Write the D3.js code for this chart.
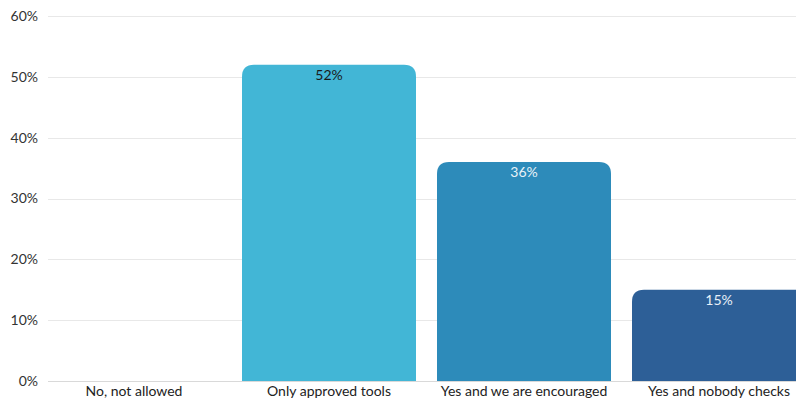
<!DOCTYPE html>
<html>
<head>
<meta charset="utf-8">
<script src="https://cdn.jsdelivr.net/npm/d3@7"></script>
<style>
  html, body { margin: 0; padding: 0; background: #fff; }
  svg { display: block; font-family: "Lato", "Inter", sans-serif; }
</style>
</head>
<body>
<svg id="chart" width="796" height="401"></svg>
<script>
// Survey answers and their shares (percent)
const categories = ["No, not allowed", "Only approved tools", "Yes and we are encouraged", "Yes and nobody checks"];
const values = [0, 52, 36, 15];
const barColors = ["#42b6d6", "#42b6d6", "#2d8bba", "#2d5f97"];
const labelColors = ["#1a1a1a", "#1a1a1a", "#e8f2f8", "#e8f0f8"];
const yTicks = [0, 10, 20, 30, 40, 50, 60];

const svg = d3.select("#chart");
const W = 796;
const gridLeft = 48;
const fontFamily = "Lato, Inter, sans-serif";
const fontSize = 14;

const x = d3.scaleBand()
  .domain(categories)
  .range([36.5, 816.5])
  .paddingInner(0.1077)
  .paddingOuter(0.1077 / 2);

const y = d3.scaleLinear().domain([0, 60]).range([381, 16]);

// Horizontal gridlines
svg.append("g")
  .selectAll("line")
  .data(yTicks)
  .join("line")
  .attr("x1", gridLeft)
  .attr("x2", W)
  .attr("y1", d => Math.round(y(d)) + 0.5)
  .attr("y2", d => Math.round(y(d)) + 0.5)
  .attr("stroke", d => d === 0 ? "#d9d9d9" : "#e8e8e8")
  .attr("stroke-width", 1);

// Y axis tick labels
const yAxis = d3.axisLeft(y).tickValues(yTicks).tickFormat(d => d + "%").tickSize(0).tickPadding(0);
const yg = svg.append("g").attr("transform", "translate(38,0)").call(yAxis);
yg.select(".domain").remove();
yg.selectAll("text")
  .attr("font-size", fontSize)
  .attr("fill", "#333")
  .attr("font-family", fontFamily);

// Bars with rounded top corners
function topRounded(x0, y0, w, h, r) {
  r = Math.min(r, w / 2, h);
  return `M${x0},${y0 + h}V${y0 + r}Q${x0},${y0} ${x0 + r},${y0}H${x0 + w - r}Q${x0 + w},${y0} ${x0 + w},${y0 + r}V${y0 + h}Z`;
}

const data = categories.map((c, i) => ({ c, v: values[i], color: barColors[i], lc: labelColors[i] }));

svg.append("g")
  .selectAll("path")
  .data(data.filter(d => d.v > 0))
  .join("path")
  .attr("d", d => topRounded(x(d.c), y(d.v), x.bandwidth(), y(0) - y(d.v), 12))
  .attr("fill", d => d.color);

// Value labels inside bar tops
svg.append("g")
  .selectAll("text")
  .data(data.filter(d => d.v > 0))
  .join("text")
  .attr("x", d => x(d.c) + x.bandwidth() / 2)
  .attr("y", d => y(d.v) + 15)
  .attr("text-anchor", "middle")
  .attr("font-size", fontSize)
  .attr("font-family", fontFamily)
  .attr("fill", d => d.lc)
  .text(d => d.v + "%");

// Category labels
const xAxis = d3.axisBottom(x).tickSize(0).tickPadding(0);
const xg = svg.append("g").attr("transform", "translate(0,386)").call(xAxis);
xg.select(".domain").remove();
xg.selectAll("text")
  .attr("font-size", fontSize)
  .attr("fill", "#222")
  .attr("dy", "0.71em")
  .attr("font-family", fontFamily);
</script>
</body>
</html>
